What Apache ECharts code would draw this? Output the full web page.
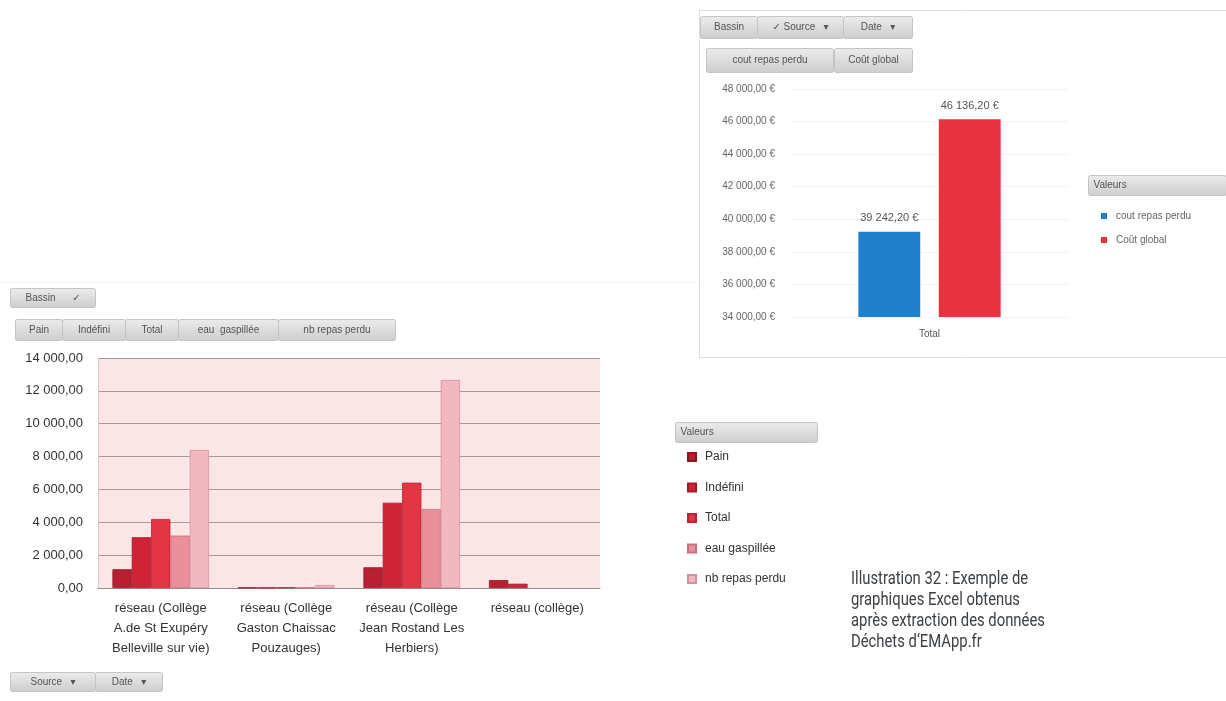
<!DOCTYPE html>
<html><head><meta charset="utf-8">
<script src="https://cdn.jsdelivr.net/npm/echarts@6/dist/echarts.min.js"></script>
<style>html,body{margin:0;padding:0;background:#fff}#c{width:1226px;height:701px}</style>
</head><body><div id="c"></div>
<script>
// ---- Left chart data ----
const categories = [
  'réseau (Collège\nA.de St Exupéry\nBelleville sur vie)',
  'réseau (Collège\nGaston Chaissac\nPouzauges)',
  'réseau (Collège\nJean Rostand Les\nHerbiers)',
  'réseau (collège)'
];
const seriesNames = ['Pain', 'Indéfini', 'Total', 'eau gaspillée', 'nb repas perdu'];
const pain = [1140, 30, 1260, 480];
const indefini = [3090, 20, 5190, 260];
const total = [4200, 40, 6410, null];
const eauGaspillee = [3190, 30, 4810, null];
const nbRepasPerdu = [8400, 180, 12660, null];
const leftTicks = [0, 2000, 4000, 6000, 8000, 10000, 12000, 14000];

// ---- Right chart data ----
const rightCategories = ['Total'];
const rightNames = ['cout repas perdu', 'Coût global'];
const coutRepasPerdu = [39242.20];
const coutGlobal = [46136.20];
const rightTicks = [34000, 36000, 38000, 40000, 42000, 44000, 46000, 48000];

// ---- Caption ----
const captionLines = ['Illustration 32 : Exemple de', 'graphiques Excel obtenus', 'après extraction des données', 'Déchets d\u2018EMApp.fr'];

function fr(v) {
  const s = Number(v).toFixed(2).split('.');
  return s[0].replace(/\B(?=(\d{3})+(?!\d))/g, ' ') + ',' + s[1];
}

const leftColors = ['#b81f30', '#cf2438', '#e23645', '#e9909a', '#f2b8c0'];
const leftBorders = ['#8e1522', '#a31a2b', '#b82532', '#c8707a', '#d8909a'];
const leftData = [pain, indefini, total, eauGaspillee, nbRepasPerdu];
const rightColors = ['#1f7fc8', '#e8323f'];
const rightData = [coutRepasPerdu, coutGlobal];

const FONT = '"Liberation Sans", "DejaVu Sans", sans-serif';
const btnFill = {type: 'linear', x: 0, y: 0, x2: 0, y2: 1, colorStops: [{offset: 0, color: '#ececec'}, {offset: 1, color: '#cdcdcd'}]};

function button(x, y, w, h, label, alignLeft) {
  return {
    type: 'group', left: x, top: y, silent: true,
    children: [
      {type: 'rect', shape: {x: 0, y: 0, width: w, height: h, r: 2}, style: {fill: btnFill, stroke: '#c4c4c4', lineWidth: 1}},
      {type: 'text', style: {text: label, x: alignLeft ? 5 : w / 2, y: h / 2, textAlign: alignLeft ? 'left' : 'center', textVerticalAlign: 'middle', fill: '#555', font: '10px ' + FONT}}
    ]
  };
}

const graphics = [];
// Right chart frame
graphics.push({type: 'rect', left: 697, top: 8, silent: true, shape: {x: 0, y: 0, width: 540, height: 347}, style: {fill: 'none', stroke: '#dedede', lineWidth: 1}});
// faint separator above left chart
graphics.push({type: 'line', silent: true, shape: {x1: 0, y1: 282, x2: 697, y2: 282}, style: {stroke: '#f0f0f0', lineWidth: 1}});
// Left chart buttons
graphics.push(button(10, 288, 85, 19, 'Bassin      \u2713'));
graphics.push(button(15, 319, 47, 21, 'Pain'));
graphics.push(button(62, 319, 63, 21, 'Indéfini'));
graphics.push(button(125, 319, 53, 21, 'Total'));
graphics.push(button(178, 319, 100, 21, 'eau  gaspillée'));
graphics.push(button(278, 319, 117, 21, 'nb repas perdu'));
graphics.push(button(10, 672, 85, 19, 'Source   \u25BE'));
graphics.push(button(95, 672, 67, 19, 'Date   \u25BE'));
// Right chart buttons
graphics.push(button(700, 16, 57, 22, 'Bassin'));
graphics.push(button(757, 16, 86, 22, '\u2713 Source   \u25BE'));
graphics.push(button(843, 16, 69, 22, 'Date   \u25BE'));
graphics.push(button(706, 48, 127, 24, 'cout repas perdu'));
graphics.push(button(834, 48, 78, 24, 'Coût global'));
// Legend headers
graphics.push(button(675, 422, 142, 20, 'Valeurs', true));
graphics.push(button(1088, 175, 138, 20, 'Valeurs', true));
// Caption (condensed look via horizontal scale)
graphics.push({
  type: 'group', x: 851, y: 570, scaleX: 0.78, scaleY: 1, silent: true,
  children: captionLines.map((t, i) => ({
    type: 'text', x: 0, y: i * 21,
    style: {text: t, fill: '#3b4045', font: '19px "Roboto", "Liberation Sans", sans-serif', textVerticalAlign: 'top'}
  }))
});

const series = [];
seriesNames.forEach((n, i) => {
  series.push({
    name: n, type: 'bar', xAxisIndex: 0, yAxisIndex: 0,
    data: leftData[i], barGap: '0%', barCategoryGap: '23%',
    itemStyle: {color: leftColors[i], borderColor: leftBorders[i], borderWidth: 0.8},
    emphasis: {disabled: true}
  });
});
rightNames.forEach((n, i) => {
  series.push({
    name: n, type: 'bar', xAxisIndex: 1, yAxisIndex: 1,
    data: rightData[i], barGap: '30%', barCategoryGap: '49%',
    itemStyle: {color: rightColors[i]},
    label: {show: true, position: 'top', distance: 8, color: '#555', fontSize: 11, fontFamily: FONT, formatter: p => fr(p.value) + ' €'},
    emphasis: {disabled: true}
  });
});

const chart = echarts.init(document.getElementById('c'), null, {renderer: 'canvas'});
chart.setOption({
  animation: false,
  backgroundColor: '#ffffff',
  textStyle: {fontFamily: FONT},
  grid: [
    {left: 98, top: 358, width: 502, height: 230, show: true, backgroundColor: '#fbe6e7', borderWidth: 0},
    {left: 790, top: 89, width: 279, height: 228, show: false}
  ],
  xAxis: [
    {type: 'category', gridIndex: 0, data: categories,
      axisLine: {lineStyle: {color: '#9a8a8a'}}, axisTick: {show: false},
      axisLabel: {color: '#333', fontSize: 13, lineHeight: 20, margin: 10, interval: 0}},
    {type: 'category', gridIndex: 1, data: rightCategories,
      axisLine: {show: false}, axisTick: {show: false},
      axisLabel: {color: '#555', fontSize: 10, margin: 12}}
  ],
  yAxis: [
    {type: 'value', gridIndex: 0, min: 0, max: 14000, interval: 2000,
      axisLine: {show: true, lineStyle: {color: '#d8c8c8'}},
      splitLine: {lineStyle: {color: '#a89898', width: 1}},
      axisLabel: {color: '#333', fontSize: 13, margin: 15, formatter: v => leftTicks.indexOf(v) >= 0 ? fr(v) : ''}},
    {type: 'value', gridIndex: 1, min: 34000, max: 48000, interval: 2000,
      axisLine: {show: false},
      splitLine: {lineStyle: {color: '#f3f3f3', width: 1}},
      axisLabel: {color: '#666', fontSize: 10, margin: 15, formatter: v => rightTicks.indexOf(v) >= 0 ? fr(v) + ' €' : ''}}
  ],
  legend: [
    {data: seriesNames, orient: 'vertical', left: 682, top: 446, itemGap: 18.5, itemWidth: 8, itemHeight: 8, icon: 'rect',
      textStyle: {color: '#333', fontSize: 12, padding: [0, 0, 0, 4]}, selectedMode: false},
    {data: rightNames, orient: 'vertical', left: 1096, top: 206, itemGap: 14, itemWidth: 6, itemHeight: 6, icon: 'rect',
      textStyle: {color: '#666', fontSize: 10, padding: [0, 0, 0, 4]}, selectedMode: false}
  ],
  graphic: graphics,
  series: series
});
</script></body></html>
